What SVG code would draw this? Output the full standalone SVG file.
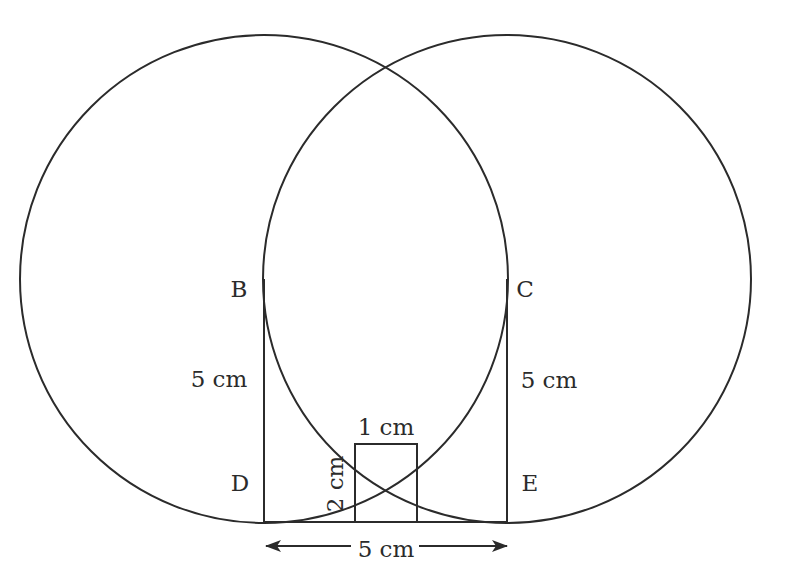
<svg xmlns="http://www.w3.org/2000/svg" width="786" height="586" viewBox="0 0 786 586">
<style>
.s{fill:none;stroke:#2b2b2b;stroke-width:2}
text{font-family:"DejaVu Serif","Liberation Serif",serif;font-size:23px;fill:#2b2b2b}
</style>
<defs>
<marker id="ah" markerWidth="16" markerHeight="12" refX="15" refY="6" orient="auto" markerUnits="userSpaceOnUse">
<path d="M0,0 L16,6 L0,12 L4,6 Z" fill="#2b2b2b"/>
</marker>
</defs>
<rect width="786" height="586" fill="#fff"/>
<g id="circle-left"><circle class="s" cx="264" cy="279" r="244"/></g>
<g id="circle-right"><circle class="s" cx="507" cy="279" r="244"/></g>
<g id="rect-BCDE"><path class="s" d="M264,279 V522 H507 V279"/></g>
<g id="small-rect"><rect class="s" x="355" y="444" width="62" height="78"/></g>
<g id="connectors">
<line class="s" x1="351" y1="546" x2="266" y2="546" marker-end="url(#ah)"/>
<line class="s" x1="419" y1="546" x2="507" y2="546" marker-end="url(#ah)"/>
</g>
<g id="labels">
<text x="239" y="297" text-anchor="middle">B</text>
<text x="525" y="297" text-anchor="middle">C</text>
<text x="240" y="491" text-anchor="middle">D</text>
<text x="530" y="491" text-anchor="middle">E</text>
<text x="219" y="387" text-anchor="middle">5 cm</text>
<text x="549" y="388" text-anchor="middle">5 cm</text>
<text x="386" y="435" text-anchor="middle">1 cm</text>
<text x="386" y="557" text-anchor="middle">5 cm</text>
<text transform="translate(343,484) rotate(-90)" text-anchor="middle">2 cm</text>
</g>
</svg>
